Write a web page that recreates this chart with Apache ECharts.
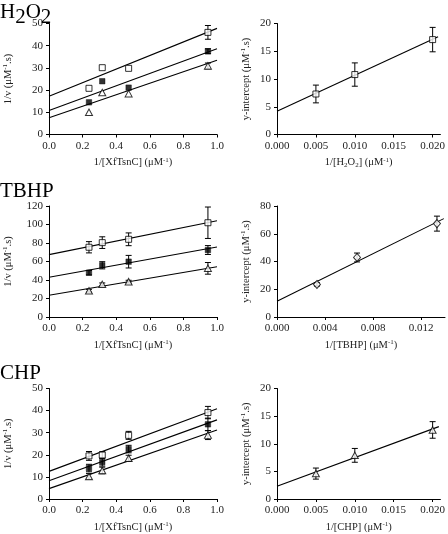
<!DOCTYPE html>
<html><head><meta charset="utf-8">
<script src="https://cdn.jsdelivr.net/npm/echarts@6/dist/echarts.min.js"></script>
<style>html,body{margin:0;padding:0;background:#fff}#c{width:448px;height:534px}</style>
</head><body><div id="c"></div>
<script>
// ---------- data ----------
const xfX = [0.238, 0.317, 0.474, 0.946];      // 1/[XfTsnC] (µM^-1)
const xfFitX = [0, 1.0];

// H2O2 – double reciprocal
const h2o2Open = [20.8, 30.1, 29.8, 46.0];
const h2o2OpenErr = [0, 0, 0, 3.1];
const h2o2Fill = [14.5, 24.0, 21.1, 37.5];
const h2o2FillErr = [0, 0, 0, 1.1];
const h2o2Tri = [10.0, 18.9, 18.4, 30.9];
const h2o2TriErr = [0, 0, 0, 1.3];
const h2o2FitOpen = [17.2, 47.8];
const h2o2FitFill = [10.8, 38.6];
const h2o2FitTri = [7.5, 33.4];
// H2O2 – secondary plot
const h2o2Conc = [0.005, 0.010, 0.020];
const h2o2Int = [7.3, 10.8, 17.1];
const h2o2IntErr = [1.6, 2.1, 2.2];
const h2o2SecFitX = [0, 0.0207];
const h2o2SecFitY = [4.2, 17.6];

// TBHP – double reciprocal
const tbhpOpen = [75.4, 80.4, 84.0, 101.9];
const tbhpOpenErr = [6.1, 6.3, 6.9, 17.0];
const tbhpFill = [47.9, 55.9, 59.8, 72.4];
const tbhpFillErr = [2.4, 3.9, 6.8, 4.8];
const tbhpTri = [28.4, 35.3, 38.2, 52.6];
const tbhpTriErr = [1.5, 1.5, 1.5, 6.3];
const tbhpFitOpen = [67.4, 104.0];
const tbhpFitFill = [42.9, 75.7];
const tbhpFitTri = [23.6, 54.4];
// TBHP – secondary plot
const tbhpConc = [0.00333, 0.00667, 0.01333];
const tbhpInt = [23.5, 42.9, 67.3];
const tbhpIntErr = [1.2, 3.2, 5.4];
const tbhpSecFitX = [0, 0.0139];
const tbhpSecFitY = [11.3, 70.9];

// CHP – double reciprocal
const chpOpen = [19.5, 19.9, 28.8, 39.1];
const chpOpenErr = [2.0, 1.5, 1.8, 2.8];
const chpFill = [14.0, 16.7, 22.6, 33.8];
const chpFillErr = [1.7, 1.8, 1.7, 2.8];
const chpTri = [10.2, 12.9, 18.4, 28.9];
const chpTriErr = [1.3, 1.5, 1.4, 2.0];
const chpFitOpen = [12.5, 40.8];
const chpFitFill = [8.3, 35.8];
const chpFitTri = [4.7, 31.2];
// CHP – secondary plot
const chpConc = [0.005, 0.010, 0.020];
const chpInt = [4.6, 7.9, 12.5];
const chpIntErr = [1.0, 1.25, 1.5];
const chpSecFitX = [0, 0.0208];
const chpSecFitY = [2.3, 13.1];

// tick labels
const xfTicks = [0, 0.2, 0.4, 0.6, 0.8, 1.0];
const h2o2XTicks = [0, 0.005, 0.010, 0.015, 0.020];
const tbhpXTicks = [0, 0.004, 0.008, 0.012];
const chpXTicks = [0, 0.005, 0.010, 0.015, 0.020];
const h2o2YTicks = [0, 10, 20, 30, 40, 50];
const h2o2SecYTicks = [0, 5, 10, 15, 20];
const tbhpYTicks = [0, 20, 40, 60, 80, 100, 120];
const tbhpSecYTicks = [0, 20, 40, 60, 80];
const chpYTicks = [0, 10, 20, 30, 40, 50];
const chpSecYTicks = [0, 5, 10, 15, 20];

const titles = ['{m|H}{s|2}{m|O}{s|2}', '{m|TBHP}', '{m|CHP}'];
const xNameLeft = '1/[XfTsnC] (μM{sup|-1})';
const yNameLeft = '1/v (μM{sup|-1}.s)';
const yNameRight = 'y-intercept (μM{sup|-1}.s)';
const xNamesRight = ['1/[H{sub|2}O{sub|2}] (μM{sup|-1})', '1/[TBHP] (μM{sup|-1})', '1/[CHP] (μM{sup|-1})'];

// ---------- chart ----------
const FONT = 'Liberation Serif';
const TXT = '#222';
const richName = {
  sup: {fontFamily: FONT, fontSize: 7, color: TXT, verticalAlign: 'top', lineHeight: 12},
  sub: {fontFamily: FONT, fontSize: 7, color: TXT, verticalAlign: 'bottom', lineHeight: 12}
};
const nameStyle = {fontFamily: FONT, fontSize: 10.5, color: TXT, lineHeight: 12, rich: richName};

const grids = [
  {left: 49, top: 23.5, width: 168, height: 111},
  {left: 277, top: 23.5, width: 168, height: 111},
  {left: 49, top: 206, width: 168, height: 111},
  {left: 277, top: 206, width: 168, height: 111},
  {left: 49, top: 388.5, width: 168, height: 111.5},
  {left: 277, top: 388.5, width: 168, height: 111.5}
];

function mkX(g, max, ticks, dec, name) {
  return {
    type: 'value', gridIndex: g, min: 0, max: max,
    axisLine: {show: true, onZero: false, lineStyle: {color: '#000', width: 1}},
    axisTick: {show: true, length: 3, customValues: ticks, lineStyle: {color: '#000'}},
    axisLabel: {customValues: ticks, formatter: v => v.toFixed(dec), color: TXT, fontFamily: FONT, fontSize: 11, margin: 6},
    splitLine: {show: false},
    name: name, nameLocation: 'middle', nameGap: 22, nameTextStyle: nameStyle
  };
}
function mkY(g, ticks, name, gap) {
  return {
    type: 'value', gridIndex: g, min: 0, max: ticks[ticks.length - 1],
    axisLine: {show: true, onZero: false, lineStyle: {color: '#000', width: 1}},
    axisTick: {show: true, length: 3, customValues: ticks, lineStyle: {color: '#000'}},
    axisLabel: {customValues: ticks, color: TXT, fontFamily: FONT, fontSize: 11, margin: 6},
    splitLine: {show: false},
    name: name, nameLocation: 'middle', nameGap: gap, nameTextStyle: nameStyle
  };
}

const xAxes = [
  mkX(0, 1.0, xfTicks, 1, xNameLeft),
  mkX(1, 0.021, h2o2XTicks, 3, xNamesRight[0]),
  mkX(2, 1.0, xfTicks, 1, xNameLeft),
  mkX(3, 0.014, tbhpXTicks, 3, xNamesRight[1]),
  mkX(4, 1.0, xfTicks, 1, xNameLeft),
  mkX(5, 0.021, chpXTicks, 3, xNamesRight[2])
];
const yAxes = [
  mkY(0, h2o2YTicks, yNameLeft, 35),
  mkY(1, h2o2SecYTicks, yNameRight, 25),
  mkY(2, tbhpYTicks, yNameLeft, 35),
  mkY(3, tbhpSecYTicks, yNameRight, 25),
  mkY(4, chpYTicks, yNameLeft, 35),
  mkY(5, chpSecYTicks, yNameRight, 25)
];

function errRender(params, api) {
  const x = api.value(0), y = api.value(1), e = api.value(2);
  if (!e) return {type: 'group', children: []};
  const t = api.coord([x, y + e]), b = api.coord([x, y - e]);
  const w = 3;
  const style = {stroke: '#000', lineWidth: 1, fill: null};
  return {type: 'group', children: [
    {type: 'line', shape: {x1: t[0], y1: t[1], x2: b[0], y2: b[1]}, style: style},
    {type: 'line', shape: {x1: t[0] - w, y1: t[1], x2: t[0] + w, y2: t[1]}, style: style},
    {type: 'line', shape: {x1: b[0] - w, y1: b[1], x2: b[0] + w, y2: b[1]}, style: style}
  ]};
}

const MARK = {
  open: {symbol: 'rect', symbolSize: 6, itemStyle: {color: '#fff', borderColor: '#000', borderWidth: 1}},
  fill: {symbol: 'rect', symbolSize: 5.5, itemStyle: {color: '#000', borderColor: '#000', borderWidth: 0.5}},
  tri: {symbol: 'triangle', symbolSize: [7, 6.5], itemStyle: {color: '#fff', borderColor: '#000', borderWidth: 1}},
  dia: {symbol: 'diamond', symbolSize: [7, 8], itemStyle: {color: '#fff', borderColor: '#000', borderWidth: 1}}
};

const series = [];
function addSet(g, xs, ys, errs, kind) {
  series.push({
    type: 'custom', xAxisIndex: g, yAxisIndex: g, renderItem: errRender, z: 3,
    encode: {x: 0, y: 1}, silent: true,
    data: xs.map((x, i) => [x, ys[i], errs[i]])
  });
  series.push(Object.assign({
    type: 'scatter', xAxisIndex: g, yAxisIndex: g, z: 4, silent: true,
    data: xs.map((x, i) => [x, ys[i]])
  }, MARK[kind]));
}
function addFit(g, fx, fy) {
  series.push({
    type: 'line', xAxisIndex: g, yAxisIndex: g, z: 2, silent: true, showSymbol: false,
    lineStyle: {color: '#000', width: 1.1}, clip: false,
    data: fx.map((x, i) => [x, fy[i]])
  });
}

// H2O2
addFit(0, xfFitX, h2o2FitOpen); addFit(0, xfFitX, h2o2FitFill); addFit(0, xfFitX, h2o2FitTri);
addSet(0, xfX, h2o2Open, h2o2OpenErr, 'open');
addSet(0, xfX, h2o2Fill, h2o2FillErr, 'fill');
addSet(0, xfX, h2o2Tri, h2o2TriErr, 'tri');
addFit(1, h2o2SecFitX, h2o2SecFitY);
addSet(1, h2o2Conc, h2o2Int, h2o2IntErr, 'open');
// TBHP
addFit(2, xfFitX, tbhpFitOpen); addFit(2, xfFitX, tbhpFitFill); addFit(2, xfFitX, tbhpFitTri);
addSet(2, xfX, tbhpOpen, tbhpOpenErr, 'open');
addSet(2, xfX, tbhpFill, tbhpFillErr, 'fill');
addSet(2, xfX, tbhpTri, tbhpTriErr, 'tri');
addFit(3, tbhpSecFitX, tbhpSecFitY);
addSet(3, tbhpConc, tbhpInt, tbhpIntErr, 'dia');
// CHP
addFit(4, xfFitX, chpFitOpen); addFit(4, xfFitX, chpFitFill); addFit(4, xfFitX, chpFitTri);
addSet(4, xfX, chpOpen, chpOpenErr, 'open');
addSet(4, xfX, chpFill, chpFillErr, 'fill');
addSet(4, xfX, chpTri, chpTriErr, 'tri');
addFit(5, chpSecFitX, chpSecFitY);
addSet(5, chpConc, chpInt, chpIntErr, 'tri');

const titleTops = [2, 181, 363];
const title = titles.map((t, i) => ({
  text: t, left: 0, top: titleTops[i], padding: 0,
  textStyle: {fontFamily: FONT, fontSize: 21, fontWeight: 'normal', color: '#000',
    rich: {
      m: {fontFamily: FONT, fontSize: 21, color: '#000', verticalAlign: 'top', lineHeight: 21},
      s: {fontFamily: FONT, fontSize: 21, color: '#000', verticalAlign: 'bottom', lineHeight: 26}
    }}
}));

const chart = echarts.init(document.getElementById('c'), null, {renderer: 'canvas'});
chart.setOption({
  animation: false,
  backgroundColor: '#fff',
  title: title,
  grid: grids,
  xAxis: xAxes,
  yAxis: yAxes,
  series: series
});
</script></body></html>
